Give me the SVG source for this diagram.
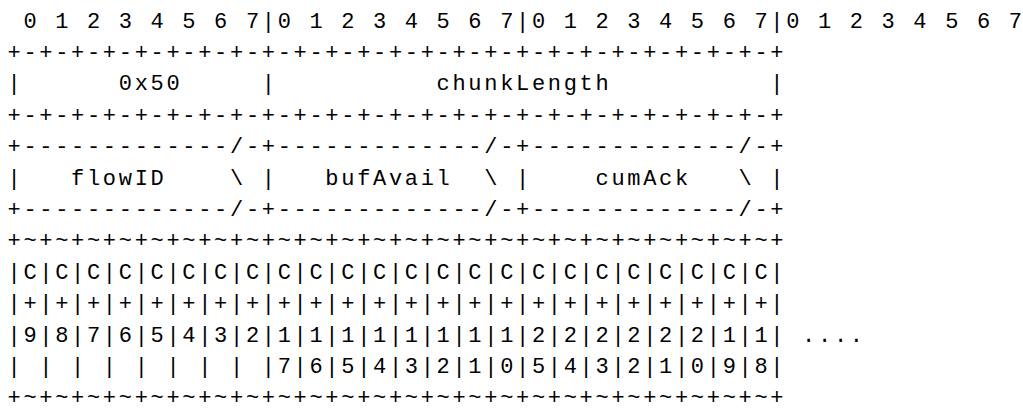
<svg xmlns="http://www.w3.org/2000/svg" width="1023" height="410" viewBox="0 0 1023 410" xml:space="preserve">
<style>
.t{font-family:"Liberation Mono","Courier New",monospace;font-size:22px;letter-spacing:2.69px;fill:#000;white-space:pre}
</style>
<rect width="1023" height="410" fill="#fff"/>
<g id="bit-ruler">
<text class="t" x="7.5" y="27.6"> 0 1 2 3 4 5 6 7|0 1 2 3 4 5 6 7|0 1 2 3 4 5 6 7|0 1 2 3 4 5 6 7</text>
</g>
<g id="chunk-header">
<text class="t" x="7.5" y="59">+-+-+-+-+-+-+-+-+-+-+-+-+-+-+-+-+-+-+-+-+-+-+-+-+</text>
<text class="t" x="7.5" y="90.4">|      0x50     |          chunkLength          |</text>
<text class="t" x="7.5" y="121.8">+-+-+-+-+-+-+-+-+-+-+-+-+-+-+-+-+-+-+-+-+-+-+-+-+</text>
</g>
<g id="vlf-fields">
<text class="t" x="7.5" y="153.2">+-------------/-+-------------/-+-------------/-+</text>
<text class="t" x="7.5" y="184.6">|   flowID    \ |   bufAvail  \ |    cumAck   \ |</text>
<text class="t" x="7.5" y="216">+-------------/-+-------------/-+-------------/-+</text>
</g>
<g id="ack-bits">
<text class="t" x="7.5" y="247.4">+~+~+~+~+~+~+~+~+~+~+~+~+~+~+~+~+~+~+~+~+~+~+~+~+</text>
<text class="t" x="7.5" y="278.8">|C|C|C|C|C|C|C|C|C|C|C|C|C|C|C|C|C|C|C|C|C|C|C|C|</text>
<text class="t" x="7.5" y="310.2">|+|+|+|+|+|+|+|+|+|+|+|+|+|+|+|+|+|+|+|+|+|+|+|+|</text>
<text class="t" x="7.5" y="341.6">|9|8|7|6|5|4|3|2|1|1|1|1|1|1|1|1|2|2|2|2|2|2|1|1| ....</text>
<text class="t" x="7.5" y="373">| | | | | | | | |7|6|5|4|3|2|1|0|5|4|3|2|1|0|9|8|</text>
<text class="t" x="7.5" y="404.4">+~+~+~+~+~+~+~+~+~+~+~+~+~+~+~+~+~+~+~+~+~+~+~+~+</text>
</g>
</svg>
